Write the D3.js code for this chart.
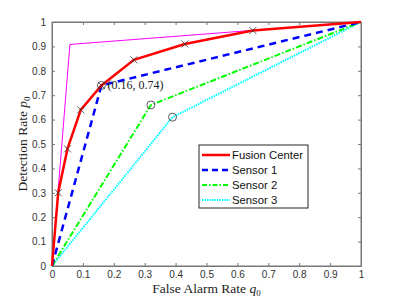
<!DOCTYPE html>
<html>
<head>
<meta charset="utf-8">
<script src="https://cdn.jsdelivr.net/npm/d3@7"></script>
<style>
  body { margin: 0; background: #fff; }
  svg { display: block; }
</style>
</head>
<body>
<script>
// ROC data
let fusionQ = [0, 0.02, 0.05, 0.093, 0.16, 0.265, 0.43, 0.65, 1];
let fusionP = [0, 0.30, 0.48, 0.64, 0.74, 0.845, 0.91, 0.965, 1];
let hullQ = [0, 0.058, 1];
let hullP = [0, 0.908, 1];
let s1Q = [0, 0.16, 1];
let s1P = [0, 0.74, 1];
let s2Q = [0, 0.32, 1];
let s2P = [0, 0.66, 1];
let s3Q = [0, 0.39, 1];
let s3P = [0, 0.61, 1];
let ticks = [0, 0.1, 0.2, 0.3, 0.4, 0.5, 0.6, 0.7, 0.8, 0.9, 1];
let legendNames = ['Fusion Center', 'Sensor 1', 'Sensor 2', 'Sensor 3'];

let width = 399, height = 299;
let padL = 52, padR = 361, padT = 22, padB = 266;

let x = d3.scaleLinear().domain([0, 1]).range([padL, padR]);
let y = d3.scaleLinear().domain([0, 1]).range([padB, padT]);

let svg = d3.select('body').append('svg')
  .attr('width', width)
  .attr('height', height);

let zip = (qs, ps) => qs.map((q, i) => ({ q: q, p: ps[i] }));
let line = d3.line().x(d => x(d.q)).y(d => y(d.p));

// axes box
let axisColor = '#333';
let tickFont = 'Helvetica, Arial, "Liberation Sans", sans-serif';
let fmt = d => d === 0 || d === 1 ? d3.format('d')(d) : d3.format('.1f')(d);

svg.append('rect')
  .attr('x', padL).attr('y', padT)
  .attr('width', padR - padL).attr('height', padB - padT)
  .attr('fill', 'none')
  .attr('stroke', '#777')
  .attr('stroke-width', 1);

let xAxis = svg.append('g')
  .attr('transform', 'translate(0,' + padB + ')')
  .call(d3.axisBottom(x).tickValues(ticks).tickSizeInner(-3).tickSizeOuter(0).tickPadding(5).tickFormat(fmt));
let xTop = svg.append('g')
  .attr('transform', 'translate(0,' + padT + ')')
  .call(d3.axisTop(x).tickValues(ticks).tickSizeInner(-3).tickSizeOuter(0).tickFormat(''));
let yAxis = svg.append('g')
  .attr('transform', 'translate(' + padL + ',0)')
  .call(d3.axisLeft(y).tickValues(ticks).tickSizeInner(-3).tickSizeOuter(0).tickPadding(6).tickFormat(fmt));
let yRight = svg.append('g')
  .attr('transform', 'translate(' + padR + ',0)')
  .call(d3.axisRight(y).tickValues(ticks).tickSizeInner(-3).tickSizeOuter(0).tickFormat(''));

[xAxis, xTop, yAxis, yRight].forEach(g => {
  g.select('.domain').attr('stroke', '#777');
  g.selectAll('.tick line').attr('stroke', '#777');
  g.selectAll('text')
    .attr('fill', axisColor)
    .attr('font-size', 10)
    .attr('font-family', tickFont);
});

// curves
svg.append('path')
  .datum(zip(hullQ, hullP))
  .attr('d', line)
  .attr('fill', 'none')
  .attr('stroke', '#ff00ff')
  .attr('stroke-width', 1);

svg.append('path')
  .datum(zip(s3Q, s3P))
  .attr('d', line)
  .attr('fill', 'none')
  .attr('stroke', '#00ffff')
  .attr('stroke-width', 2)
  .attr('stroke-dasharray', '1.5,1');

svg.append('path')
  .datum(zip(s2Q, s2P))
  .attr('d', line)
  .attr('fill', 'none')
  .attr('stroke', '#00ff00')
  .attr('stroke-width', 2)
  .attr('stroke-dasharray', '6,2,1.5,2');

svg.append('path')
  .datum(zip(s1Q, s1P))
  .attr('d', line)
  .attr('fill', 'none')
  .attr('stroke', '#0000ff')
  .attr('stroke-width', 2.5)
  .attr('stroke-dasharray', '7,5');

svg.append('path')
  .datum(zip(fusionQ, fusionP))
  .attr('d', line)
  .attr('fill', 'none')
  .attr('stroke', '#ff0000')
  .attr('stroke-width', 2.5);

// cross markers on the fusion curve
let inner = zip(fusionQ, fusionP).slice(1, -1);
let cs = 3.5;
svg.selectAll('.cross')
  .data(inner)
  .enter()
  .append('path')
  .attr('class', 'cross')
  .attr('d', d => {
    let cx = x(d.q), cy = y(d.p);
    return 'M' + (cx - cs) + ',' + (cy - cs) + 'L' + (cx + cs) + ',' + (cy + cs) +
           'M' + (cx - cs) + ',' + (cy + cs) + 'L' + (cx + cs) + ',' + (cy - cs);
  })
  .attr('stroke', '#333')
  .attr('stroke-width', 0.8)
  .attr('fill', 'none');

// circles on the sensor operating points
let opPoints = [zip(s1Q, s1P)[1], zip(s2Q, s2P)[1], zip(s3Q, s3P)[1]];
svg.selectAll('.op')
  .data(opPoints)
  .enter()
  .append('circle')
  .attr('class', 'op')
  .attr('cx', d => x(d.q))
  .attr('cy', d => y(d.p))
  .attr('r', 4)
  .attr('fill', 'none')
  .attr('stroke', '#333')
  .attr('stroke-width', 0.8);

let serif = '"Liberation Serif", "Times New Roman", serif';

svg.append('text')
  .attr('x', x(s1Q[1]) + 6)
  .attr('y', y(s1P[1]) + 4)
  .attr('font-family', serif)
  .attr('font-size', 12)
  .attr('fill', '#222')
  .text('(0.16, 0.74)');

// axis titles
let xt = svg.append('text')
  .attr('x', (padL + padR) / 2)
  .attr('y', 293)
  .attr('text-anchor', 'middle')
  .attr('font-family', serif)
  .attr('font-size', 13.5)
  .attr('fill', '#222');
xt.append('tspan').text('False Alarm Rate ');
xt.append('tspan').attr('font-style', 'italic').text('q');
xt.append('tspan').attr('font-size', 9).attr('dy', 3).text('0');

let yt = svg.append('text')
  .attr('transform', 'translate(27,' + ((padT + padB) / 2) + ')rotate(-90)')
  .attr('text-anchor', 'middle')
  .attr('font-family', serif)
  .attr('font-size', 13.5)
  .attr('fill', '#222');
yt.append('tspan').text('Detection Rate ');
yt.append('tspan').attr('font-style', 'italic').text('p');
yt.append('tspan').attr('font-size', 9).attr('dy', 3).text('0');

// legend
let legend = svg.append('g');
legend.append('rect')
  .attr('x', 199).attr('y', 145)
  .attr('width', 109).attr('height', 63)
  .attr('fill', '#fff')
  .attr('stroke', '#262626')
  .attr('stroke-width', 1);

let legendStyles = [
  { color: '#ff0000', dash: null, w: 2.5 },
  { color: '#0000ff', dash: '6,4', w: 2.5 },
  { color: '#00ff00', dash: '5,2,1.5,2', w: 2 },
  { color: '#00ffff', dash: '1.5,1', w: 2 }
];
let rowY = [155, 170, 185, 200];

legendNames.forEach((name, i) => {
  legend.append('line')
    .attr('x1', 202).attr('x2', 230)
    .attr('y1', rowY[i]).attr('y2', rowY[i])
    .attr('stroke', legendStyles[i].color)
    .attr('stroke-width', legendStyles[i].w)
    .attr('stroke-dasharray', legendStyles[i].dash);
  legend.append('text')
    .attr('x', 232)
    .attr('y', rowY[i] + 4)
    .attr('font-family', tickFont)
    .attr('font-size', 11.3)
    .attr('fill', '#111')
    .text(name);
});
</script>
</body>
</html>
